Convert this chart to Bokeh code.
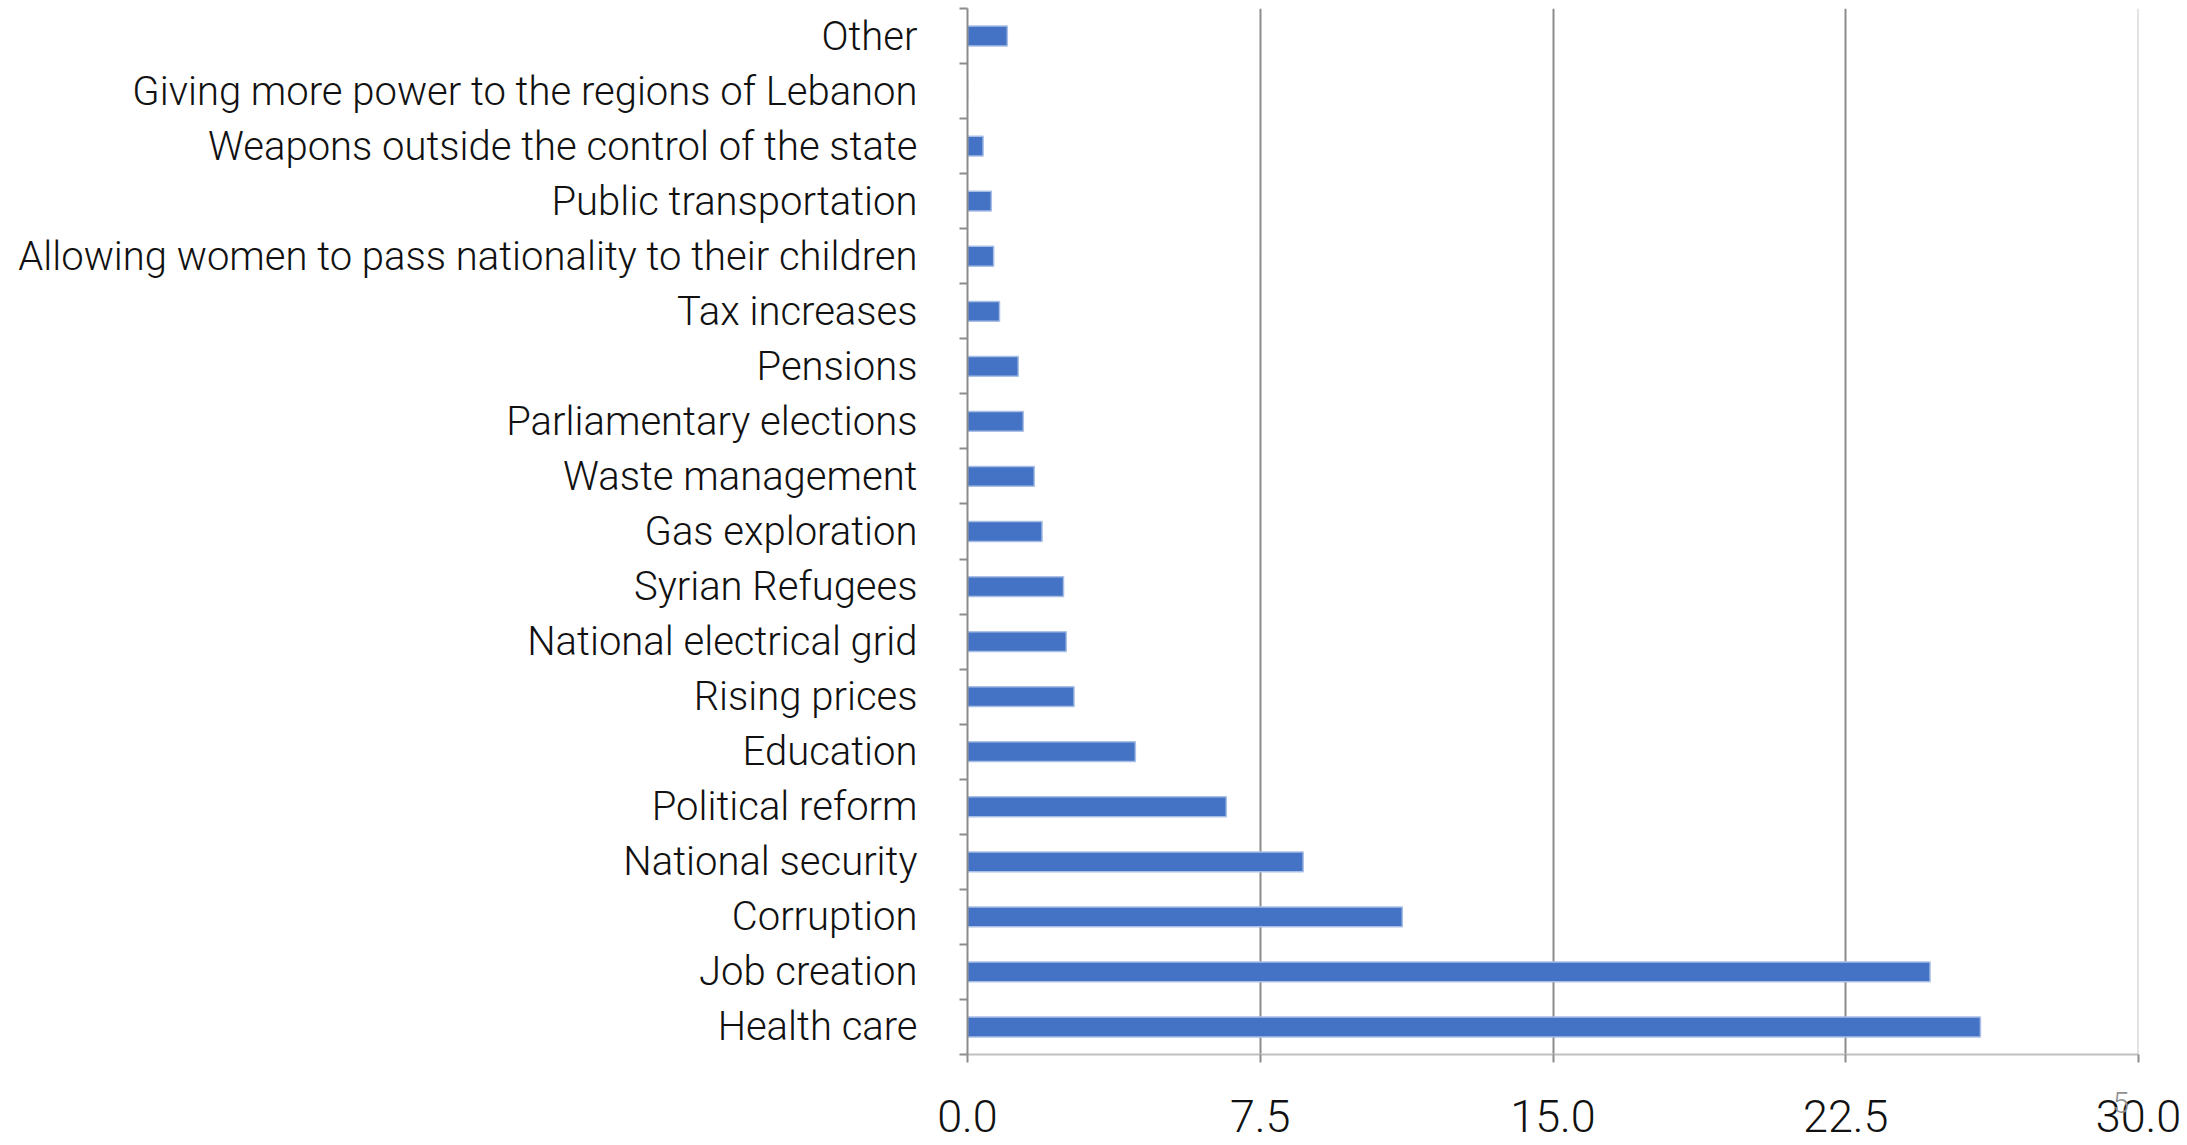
from bokeh.plotting import figure
from bokeh.models import Range1d, FixedTicker, NumeralTickFormatter, Span
from bokeh.embed import file_html
from bokeh.resources import INLINE

# Categories listed bottom-to-top
categories = [
    "Health care",
    "Job creation",
    "Corruption",
    "National security",
    "Political reform",
    "Education",
    "Rising prices",
    "National electrical grid",
    "Syrian Refugees",
    "Gas exploration",
    "Waste management",
    "Parliamentary elections",
    "Pensions",
    "Tax increases",
    "Allowing women to pass nationality to their children",
    "Public transportation",
    "Weapons outside the control of the state",
    "Giving more power to the regions of Lebanon",
    "Other",
]
values = [25.95, 24.66, 11.14, 8.60, 6.63, 4.30, 2.73, 2.53, 2.46, 1.91,
          1.71, 1.43, 1.30, 0.82, 0.67, 0.61, 0.40, 0.0, 1.02]
x_ticks = [0.0, 7.5, 15.0, 22.5, 30.0]
page_note = "5"

FONT = "Roboto Light, Roboto"
n = len(categories)
centers = [i + 0.5 for i in range(n)]
edges = list(range(n + 1))

p = figure(width=2187, height=1145, output_backend="svg", toolbar_location=None,
           x_range=Range1d(x_ticks[0], x_ticks[-1]), y_range=Range1d(0, n),
           min_border_left=967, min_border_right=49, min_border_top=8,
           min_border_bottom=91)
p.outline_line_color = None
p.background_fill_color = "white"
p.border_fill_color = "white"

# grid
p.ygrid.visible = False
p.xgrid.ticker = FixedTicker(ticks=x_ticks[1:-1])
p.xgrid.grid_line_color = "#8c8c8c"
p.xgrid.grid_line_width = 2
p.add_layout(Span(location=x_ticks[-1], dimension="height",
                  line_color="#c8c8c8", line_width=2))

p.hbar(y=centers, right=values, left=0, height=0.36,
       fill_color="#4472C4", line_color="#a9bfe6", line_width=1.5)

# y axis
ya = p.yaxis[0]
ya.ticker = FixedTicker(ticks=centers, minor_ticks=edges)
ya.major_label_overrides = {c: lab for c, lab in zip(centers, categories)}
ya.major_tick_line_color = None
ya.major_tick_out = 0
ya.major_tick_in = 0
ya.minor_tick_out = 8
ya.minor_tick_in = 0
ya.minor_tick_line_color = "#8c8c8c"
ya.minor_tick_line_width = 2
ya.axis_line_color = "#8c8c8c"
ya.axis_line_width = 2
ya.major_label_text_font = FONT
ya.major_label_text_font_size = "40px"
ya.major_label_text_color = "#111111"
ya.major_label_standoff = 42

# x axis
xa = p.xaxis[0]
xa.ticker = FixedTicker(ticks=x_ticks)
xa.formatter = NumeralTickFormatter(format="0.0")
xa.axis_line_color = "#c0c0c0"
xa.axis_line_width = 2
xa.major_tick_line_color = "#8c8c8c"
xa.major_tick_line_width = 2
xa.major_tick_out = 8
xa.major_tick_in = 0
xa.minor_tick_line_color = None
xa.major_label_text_font = FONT
xa.major_label_text_font_size = "45px"
xa.major_label_text_color = "#111111"
xa.major_label_standoff = 37

# small page-number mark next to the last tick label
xa.axis_label = page_note + "\u00a0" * 5
xa.axis_label_text_font = FONT
xa.axis_label_text_font_size = "29px"
xa.axis_label_text_font_style = "normal"
xa.axis_label_text_color = "#909090"
xa.axis_label_standoff = -49
try:
    xa.axis_label_align = "end"
except Exception:
    pass

open("out.html", "w").write(file_html(p, INLINE))
